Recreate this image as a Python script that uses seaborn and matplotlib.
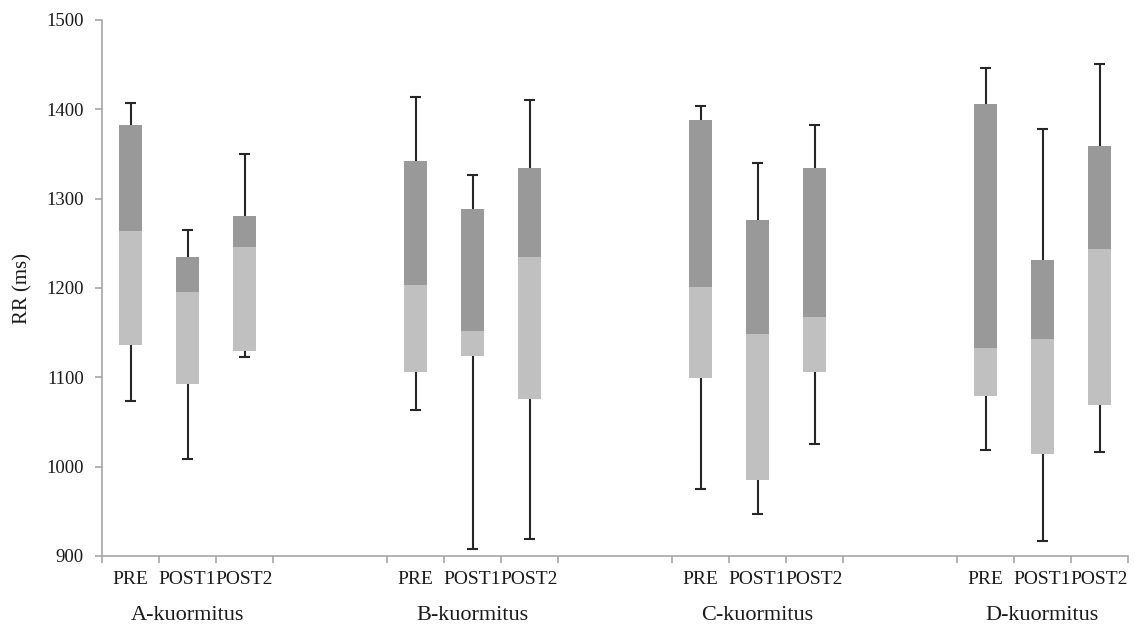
import numpy as np
import pandas as pd
import matplotlib
matplotlib.use("Agg")
import matplotlib.pyplot as plt
import seaborn as sns
from matplotlib.transforms import blended_transform_factory

# RR interval summaries (ms) per load and measurement phase
loads = ["A-kuormitus", "B-kuormitus", "C-kuormitus", "D-kuormitus"]
phases = ["PRE", "POST1", "POST2"]

whisker_low = [1073, 1009, 1123, 1063, 908, 919, 975, 947, 1025, 1019, 917, 1016]
box_low = [1136, 1092, 1129, 1106, 1124, 1076, 1099, 985, 1106, 1079, 1014, 1069]
box_mid = [1264, 1195, 1246, 1203, 1152, 1235, 1201, 1149, 1168, 1133, 1143, 1244]
box_high = [1383, 1235, 1281, 1342, 1288, 1334, 1388, 1276, 1334, 1406, 1231, 1359]
whisker_high = [1407, 1265, 1350, 1414, 1327, 1410, 1404, 1340, 1382, 1446, 1378, 1451]

y_ticks = [900, 1000, 1100, 1200, 1300, 1400, 1500]

# each load occupies five slots: three boxes followed by two empty slots
SLOTS_PER_GROUP = 5
rows = []
for gi, load in enumerate(loads):
    for pi, phase in enumerate(phases):
        k = gi * len(phases) + pi
        rows.append(dict(
            load=load, phase=phase, slot=gi * SLOTS_PER_GROUP + pi,
            wlo=whisker_low[k], blo=box_low[k], bmid=box_mid[k],
            bhi=box_high[k], whi=whisker_high[k],
        ))
df = pd.DataFrame(rows).sort_values("slot").reset_index(drop=True)
df["lower_h"] = df["bmid"] - df["blo"]
df["upper_h"] = df["bhi"] - df["bmid"]

sns.set_theme(style="white")
plt.rcParams["font.family"] = ["Liberation Serif", "DejaVu Serif"]

fig = plt.figure(figsize=(11.35, 6.32), dpi=100)
ax = fig.add_axes([102 / 1135, 1 - 556 / 632, 1026 / 1135, 536 / 632])

light = "#c0c0c0"
dark = "#999999"
sns.barplot(data=df, x="slot", y="lower_h", bottom=df["blo"].to_numpy(),
            native_scale=True, width=0.4, color=light, saturation=1,
            errorbar=None, linewidth=0, ax=ax)
sns.barplot(data=df, x="slot", y="upper_h", bottom=df["bmid"].to_numpy(),
            native_scale=True, width=0.4, color=dark, saturation=1,
            errorbar=None, linewidth=0, ax=ax)

# whiskers with end caps
wcol = "#262626"
cap = 0.1
ax.vlines(df["slot"], df["bhi"], df["whi"], color=wcol, lw=1.5, zorder=3)
ax.vlines(df["slot"], df["wlo"], df["blo"], color=wcol, lw=1.5, zorder=3)
ax.hlines(df["whi"], df["slot"] - cap, df["slot"] + cap, color=wcol, lw=1.5, zorder=3)
ax.hlines(df["wlo"], df["slot"] - cap, df["slot"] + cap, color=wcol, lw=1.5, zorder=3)

n_slots = SLOTS_PER_GROUP * len(loads) - 2
ax.set_xlim(-0.5, n_slots - 0.5)
ax.set_ylim(900, 1500)

axis_grey = "#a6a6a6"
for side in ["top", "right"]:
    ax.spines[side].set_visible(False)
for side in ["left", "bottom"]:
    ax.spines[side].set_color(axis_grey)
    ax.spines[side].set_linewidth(1.2)

# y axis
ax.set_yticks(y_ticks)
ax.set_yticklabels([str(v) for v in y_ticks])
ax.tick_params(axis="y", which="major", left=True, direction="out", length=5,
               width=1.2, color=axis_grey, pad=8, labelsize=13.5, labelcolor="#1a1a1a")
ax.set_ylabel("RR (ms)", fontsize=15, color="#1a1a1a")
ax.yaxis.set_label_coords(-70 / 1026, 0.5)

# x axis: tick marks at box slot edges, phase labels at slot centres
edges = []
for gi in range(len(loads)):
    base = gi * SLOTS_PER_GROUP
    edges += [base - 0.5, base + 0.5, base + 1.5, base + 2.5]
ax.set_xticks(edges)
ax.set_xticklabels([""] * len(edges))
ax.set_xticks(df["slot"].to_numpy(), minor=True)
ax.set_xticklabels(df["phase"].tolist(), minor=True)
ax.tick_params(axis="x", which="major", bottom=True, direction="out", length=5,
               width=1.2, color=axis_grey)
ax.tick_params(axis="x", which="minor", bottom=True, length=0, pad=11,
               labelsize=14, labelcolor="#1a1a1a")
ax.set_xlabel("")

# load group labels beneath the phase labels
trans = blended_transform_factory(ax.transData, ax.transAxes)
for gi, load in enumerate(loads):
    ax.text(gi * SLOTS_PER_GROUP + 1, -59 / 536, load, transform=trans,
            ha="center", va="center", fontsize=16, color="#1a1a1a")

fig.savefig("out.png", dpi=100)
